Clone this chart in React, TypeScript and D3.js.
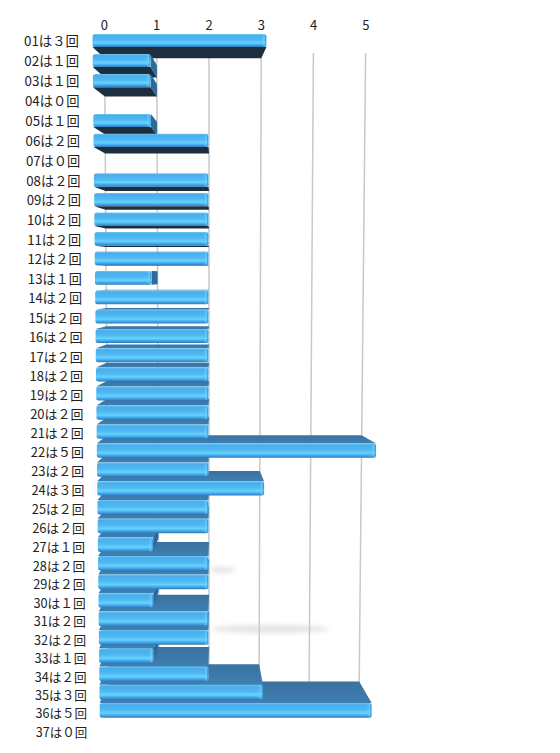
import React from "react";
import * as d3 from "d3";

const categories = ["01","02","03","04","05","06","07","08","09","10","11","12","13","14","15","16","17","18","19","20","21","22","23","24","25","26","27","28","29","30","31","32","33","34","35","36","37"];
const counts = [3,1,1,0,1,2,0,2,2,2,2,2,1,2,2,2,2,2,2,2,2,5,2,3,2,2,1,2,2,1,2,2,1,2,3,5,0];
const ticks = [0,1,2,3,4,5];

const W = 560, H = 753;
const FONT = "'Noto Sans CJK JP', 'Noto Sans', sans-serif";

// perspective parameters (layout)
const cy = 275;      // horizon
const kv = 0.95;     // vertical shrink to back wall
const n = categories.length;

const rowIndex = d3.scalePoint<string>().domain(categories).range([0, n - 1]);
const valueOffset = d3.scaleLinear().domain([0, 5]).range([-2, 3]);

const rowY = (i: number) => 40 + 20.2 * i - 0.0279 * i * i;
const spacing = (i: number) => 20.2 - 0.0558 * i;
const uF = (i: number) => 58 - (3.6 * i) / 35;
const sc = (i: number) => uF(i) / 58;
const barCenter = (i: number) => rowY(i) - (3 * i) / 36 + 0.5;
const barH = (i: number) => spacing(i) * (0.64 + (0.18 * i) / 36);
const frontX = (v: number, i: number) => 208.5 + valueOffset(v) * uF(i);
const backY = (yf: number) => cy + (yf - cy) * kv;
const uB = (y: number) => 52.2 - ((y - 55) * 2.2) / 645;
const backX = (v: number, yb: number) => 209 + valueOffset(v) * uB(yb);

const fmtCount = (c: number) => String(c).replace(/[0-9]/g, (d) => String.fromCharCode(d.charCodeAt(0) + 0xfee0));

function pts(p: [number, number][]) {
  return p.map((q) => q[0].toFixed(2) + "," + q[1].toFixed(2)).join(" ");
}

function Bar({ cat, v }: { cat: string; v: number }) {
  const i = rowIndex(cat)!;
  if (v <= 0) return null;
  const c = barCenter(i);
  const h = barH(i);
  const yT = c - h / 2, yB = c + h / 2;
  const x0 = frontX(0, i), x1 = frontX(v, i);
  const above = c < cy;
  const edgeY = above ? yB : yT;
  const by = backY(edgeY);
  const depth: [number, number][] = [
    [x0, edgeY], [x1, edgeY], [backX(v, by), by], [backX(0, by), by],
  ];
  const capVisible = valueOffset(v) < 0;
  const byT = backY(yT), byB = backY(yB);
  const cap: [number, number][] = [
    [x1, yT], [backX(v, byT), byT], [backX(v, byB), byB], [x1, yB],
  ];
  return (
    <g>
      <polygon points={pts(depth)} fill={above ? "#1d2e3f" : "url(#topFace)"} />
      {capVisible && <polygon points={pts(cap)} fill="#2c6a9c" />}
      <rect x={x0} y={yT} width={x1 - x0} height={h} rx={2.5} ry={2.5} fill="url(#frontFace)" />
      <rect x={x1 - 5} y={yT + 0.5} width={4.5} height={h - 1} rx={2} fill="url(#endCap)" opacity={0.8} />
    </g>
  );
}

export default function App() {
  const order: number[] = [];
  const horizonIdx = categories.findIndex((_, i) => barCenter(i) >= cy);
  for (let i = 0; i < horizonIdx; i++) order.push(i);
  for (let i = n - 1; i >= horizonIdx; i--) order.push(i);

  const gTop = 53;
  const gBot = backY(barCenter(n - 2) + barH(n - 2) / 2);

  return (
    <svg width={W} height={H} style={{ position: "absolute", left: 0, top: 0, background: "#fff" }}>
      <defs>
        <linearGradient id="frontFace" x1="0" y1="0" x2="0" y2="1">
          <stop offset="0" stopColor="#6cc9f7" />
          <stop offset="0.12" stopColor="#4aaeea" />
          <stop offset="0.45" stopColor="#4fb8f2" />
          <stop offset="0.68" stopColor="#66d3ff" />
          <stop offset="0.85" stopColor="#44a6e6" />
          <stop offset="1" stopColor="#2a7bbf" />
        </linearGradient>
        <linearGradient id="topFace" x1="0" y1="0" x2="0" y2="1">
          <stop offset="0" stopColor="#3a72a0" />
          <stop offset="1" stopColor="#3e7fb2" />
        </linearGradient>
        <linearGradient id="endCap" x1="0" y1="0" x2="1" y2="0">
          <stop offset="0" stopColor="#66d3ff" stopOpacity="0" />
          <stop offset="0.6" stopColor="#7fdcff" stopOpacity="0.6" />
          <stop offset="1" stopColor="#2f7fc0" stopOpacity="0.9" />
        </linearGradient>
        <filter id="blur" x="-50%" y="-50%" width="200%" height="200%">
          <feGaussianBlur stdDeviation="2.5" />
        </filter>
      </defs>

      {/* faint background smudges */}
      <ellipse cx={222} cy={570} rx={14} ry={3} fill="#d8d8d8" filter="url(#blur)" opacity={0.7} />
      <ellipse cx={270} cy={629} rx={60} ry={4} fill="#d8d8d8" filter="url(#blur)" opacity={0.7} />

      {/* back-wall gridlines */}
      {ticks.map((t) => (
        <line key={"g" + t} x1={backX(t, gTop)} y1={gTop} x2={backX(t, gBot)} y2={gBot} stroke="#c9c9c9" strokeWidth={1.5} />
      ))}

      {/* tick labels */}
      {ticks.map((t) => (
        <text key={"t" + t} x={backX(t, 22)} y={24} fontFamily={FONT} fontSize={13} fill="#222" textAnchor="middle" dominantBaseline="central">
          {t}
        </text>
      ))}

      {/* bars */}
      {order.map((i) => (
        <Bar key={categories[i]} cat={categories[i]} v={counts[i]} />
      ))}

      {/* category labels */}
      {categories.map((cat, i) => (
        <text key={"l" + cat} x={frontX(0, rowIndex(cat)!) - 13.5 * sc(i)} y={rowY(rowIndex(cat)!)} fontFamily={FONT} fontSize={13.4 * sc(i)} fill="#222" textAnchor="end" dominantBaseline="central">
          {cat + "は" + fmtCount(counts[i]) + "回"}
        </text>
      ))}
    </svg>
  );
}
